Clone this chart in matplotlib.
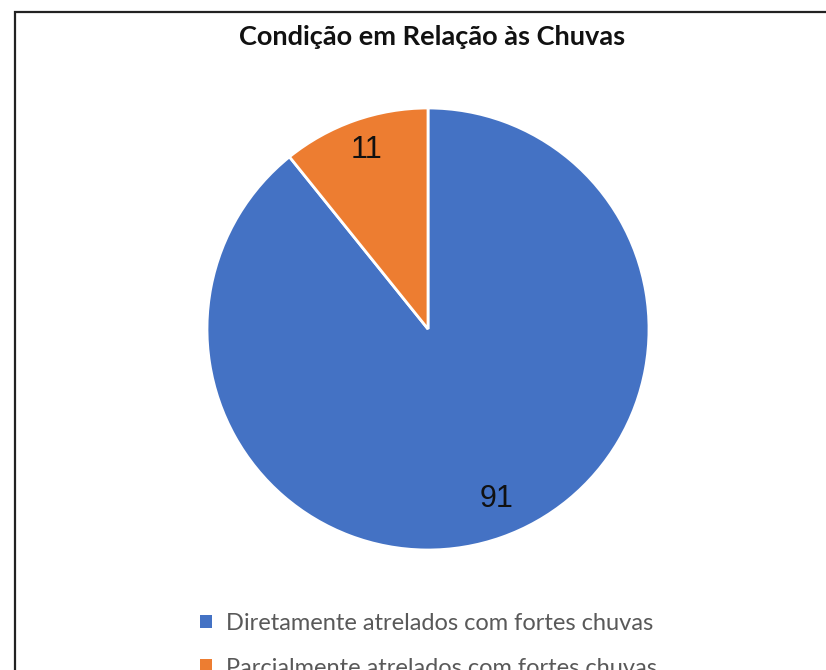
import matplotlib
matplotlib.use("Agg")
import matplotlib.pyplot as plt
from matplotlib.patches import Rectangle, Patch

categories = ["Diretamente atrelados com fortes chuvas",
              "Parcialmente atrelados com fortes chuvas"]
values = [91, 11]
colors = ["#4472C4", "#ED7D31"]
title = "Condição em Relação às Chuvas"

W, H = 826, 670
fig = plt.figure(figsize=(W / 100, H / 100), dpi=100)
fig.patch.set_facecolor("white")

# outer frame
fig.add_artist(Rectangle((15 / W, -0.05), 1.0, 1 - 12 / H + 0.05,
                         transform=fig.transFigure, fill=False,
                         edgecolor="#222222", linewidth=1.6))

cx, cy, r = 428, 329, 221
ax = fig.add_axes([(cx - r) / W, (H - cy - r) / H, 2 * r / W, 2 * r / H])
wedges, texts = ax.pie(values, colors=colors, startangle=90, counterclock=False,
                       labels=[str(v) for v in values], labeldistance=0.83,
                       wedgeprops=dict(edgecolor="white", linewidth=2),
                       textprops=dict(fontsize=22, family="Liberation Sans",
                                      color="#111111", ha="center", va="center"))
# value labels placed inside their slices
texts[0].set_position((0.31, -0.77))
texts[1].set_position((-0.28, 0.81))
ax.set_xlim(-1, 1)
ax.set_ylim(-1, 1)
ax.set_aspect("equal")
ax.axis("off")

fig.text(cx / W + 4 / W, 1 - 37 / H, title, ha="center", va="center",
         fontsize=19.5, fontweight="bold", family="Lato", color="#111111")

handles = [Patch(facecolor=c, edgecolor="none") for c in colors]
fig.legend(handles, categories, loc="upper left",
           bbox_to_anchor=(200 / W, 1 - 613 / H), frameon=False,
           prop=dict(family="Lato", size=17), labelcolor="#595959",
           handlelength=0.5, handleheight=0.5, handletextpad=0.6,
           labelspacing=1.0, borderaxespad=0, borderpad=0)

fig.savefig("out.png", dpi=100)
